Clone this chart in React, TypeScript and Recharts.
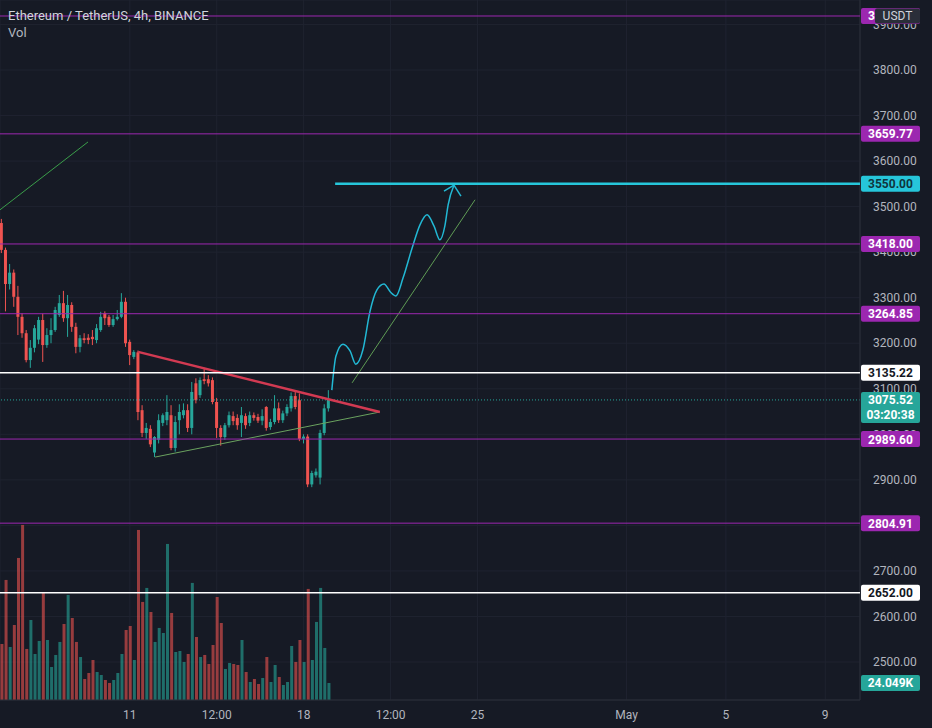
import React from "react";
import {
  ComposedChart,
  Bar,
  Line,
  XAxis,
  YAxis,
  CartesianGrid,
  ReferenceLine,
  Cell,
} from "recharts";

// ---- 4h candles (index 0 = Apr 5 20:00) ----
const OPEN = [
  3464, 3405, 3330, 3355, 3302, 3258, 3222, 3163, 3190, 3208,
  3251, 3196, 3218, 3229, 3262, 3288, 3255, 3284, 3236, 3192,
  3211, 3212, 3214, 3207, 3229, 3266, 3258, 3240, 3253, 3258,
  3291, 3203, 3170, 3180, 3053, 3003, 3012, 2960, 2988, 3025,
  3031, 3042, 2970, 3031, 3042, 3053, 3014, 3112, 3086, 3121,
  3121, 3119, 3071, 3014, 2994, 3020, 3040, 3036, 3025, 3040,
  3025, 3042, 3038, 3030, 3060, 3016, 3027, 3057, 3031, 3046,
  3057, 3084, 3075, 2990, 2995, 2890, 2910, 2905, 3003, 3057,
];
const HIGH = [
  3473, 3410, 3374, 3362, 3326, 3266, 3229, 3207, 3240, 3258,
  3265, 3233, 3255, 3280, 3306, 3315, 3306, 3290, 3245, 3218,
  3222, 3220, 3229, 3242, 3269, 3270, 3262, 3262, 3273, 3310,
  3300, 3208, 3185, 3184, 3064, 3025, 3020, 2996, 3044, 3046,
  3086, 3064, 3040, 3066, 3068, 3066, 3115, 3123, 3125, 3146,
  3130, 3125, 3080, 3020, 3025, 3050, 3050, 3044, 3060, 3046,
  3050, 3048, 3045, 3055, 3062, 3034, 3086, 3070, 3052, 3066,
  3092, 3095, 3090, 3000, 3000, 2920, 2925, 3010, 3066, 3097,
];
const LOW = [
  3398, 3270, 3318, 3280, 3218, 3212, 3158, 3146, 3180, 3198,
  3159, 3190, 3200, 3225, 3258, 3247, 3214, 3225, 3178, 3180,
  3200, 3198, 3196, 3200, 3225, 3240, 3236, 3236, 3250, 3255,
  3192, 3152, 3165, 3031, 2994, 2990, 2972, 2950, 2980, 3018,
  3020, 2965, 2962, 3000, 3035, 3005, 3000, 3068, 3080, 3110,
  3105, 3066, 2992, 2975, 2988, 3015, 3020, 3010, 2994, 3012,
  3018, 3030, 3025, 3020, 3008, 3010, 3022, 3025, 3025, 3040,
  3050, 3055, 2985, 2980, 2884, 2884, 2905, 2890, 2998, 3050,
];
const CLOSE = [
  3405, 3330, 3355, 3302, 3258, 3222, 3163, 3190, 3233, 3251,
  3196, 3218, 3229, 3273, 3288, 3255, 3284, 3236, 3192, 3211,
  3207, 3207, 3209, 3233, 3258, 3255, 3240, 3253, 3258, 3291,
  3200, 3174, 3181, 3049, 3003, 3014, 2978, 2994, 3031, 3042,
  3049, 2970, 3027, 3049, 3053, 3014, 3093, 3075, 3119, 3117,
  3112, 3071, 3014, 2994, 3020, 3042, 3029, 3020, 3042, 3020,
  3042, 3036, 3030, 3040, 3014, 3027, 3057, 3031, 3046, 3060,
  3084, 3060, 2990, 2995, 2890, 2915, 2918, 3003, 3057, 3075.52,
];
// volume in thousands
const VOLUME = [
  79.2, 169.8, 75.0, 106.1, 200.9, 247.6, 72.2, 113.2, 65.1, 83.5,
  151.4, 84.9, 46.7, 63.7, 82.1, 107.5, 148.6, 116.0, 82.1, 60.8,
  29.7, 38.2, 56.6, 39.6, 35.4, 28.3, 24.1, 28.3, 38.2, 65.1,
  99.0, 104.7, 56.6, 240.5, 138.7, 158.5, 124.5, 82.1, 101.9, 94.8,
  220.7, 123.1, 67.9, 69.3, 53.8, 65.1, 165.6, 89.1, 60.8, 63.7,
  50.9, 77.8, 145.7, 108.9, 43.9, 52.4, 50.9, 49.5, 84.9, 39.6,
  25.5, 29.7, 22.6, 31.1, 60.8, 25.5, 49.5, 32.5, 21.2, 25.5,
  76.4, 53.8, 84.9, 53.8, 157.1, 56.6, 110.4, 158.5, 73.6, 24.049,
];

const PRICE_TICKS = [2500, 2600, 2700, 2800, 2900, 3000, 3100, 3200, 3300, 3400, 3500, 3600, 3700, 3800, 3900];
const TIME_TICKS = [31, 52, 73, 94, 115, 151, 175, 199];
const TIME_LABELS = ["11", "12:00", "18", "12:00", "25", "May", "5", "9"];

const PURPLE_LEVELS = [3918.6, 3659.77, 3418.0, 3264.85, 2989.6, 2804.91];
const WHITE_LEVELS = [3135.22, 2652.0];
const LAST_PRICE = 3075.52;
const COUNTDOWN = "03:20:38";
const TARGET = 3550.0;
const TARGET_START = 80.6;

// projected path (drawing)
const WAVE_K = [79.8, 80.8, 82.5, 84.2, 85.6, 87.3, 89.0, 90.7, 92.4, 94.0, 95.3, 97.0, 99.2, 101.1, 102.8, 104.5, 105.9, 107.1, 107.9, 109.3];
const WAVE_P = [3097, 3172, 3198, 3183, 3154, 3185, 3269, 3317, 3330, 3312, 3304, 3343, 3409, 3460, 3482, 3457, 3427, 3457, 3504, 3547];
const ARROW_LEFT = { k: 106.9, p: 3534 };
const ARROW_RIGHT = { k: 111.0, p: 3523 };

// triangle & trendlines
const TRI_TOP = [{ k: 33, p: 3181 }, { k: 91.4, p: 3049 }];
const TRI_BOTTOM = [{ k: 37.1, p: 2950 }, { k: 91.4, p: 3049 }];
const TREND_OLD = [{ k: -0.36, p: 3493 }, { k: 20.9, p: 3642 }];
const TREND_NEW = [{ k: 84.7, p: 3113 }, { k: 114.4, p: 3515 }];

const X_DOMAIN: [number, number] = [-0.36, 207.4];
const Y_DOMAIN: [number, number] = [2416.6, 3953.7];
const VOL_DOMAIN: [number, number] = [0, 990];

const CANDLES = OPEN.map((o, i) => ({
  k: i,
  o,
  h: HIGH[i],
  l: LOW[i],
  c: CLOSE[i],
  v: VOLUME[i],
}));
const WAVE = WAVE_K.map((k, i) => ({ k, p: WAVE_P[i] }));

const FONT = "Roboto, 'Noto Sans', 'DejaVu Sans', sans-serif";
const UP = "#26a69a";
const DOWN = "#ef5350";
const BG = "#161a25";
const PURPLE = "#9c27b0";
const CYAN = "#26c6da";
const WAVE_COLOR = "#22b8d4";
const AXIS_TEXT = "#b2b5be";

function Candle(props: any) {
  const { x, y, width, height, payload } = props;
  if (!payload || x == null || y == null) return null;
  const top = Math.min(y, y + height);
  const hgt = Math.abs(height);
  const { o, h, l, c } = payload;
  const ppu = hgt / (h - l || 1);
  const yOf = (p: number) => top + (h - p) * ppu;
  const color = c >= o ? UP : DOWN;
  const cx = x + width / 2;
  const bTop = yOf(Math.max(o, c));
  const bBot = yOf(Math.min(o, c));
  return (
    <g>
      <rect x={cx - 0.5} y={top} width={1} height={hgt} fill={color} />
      <rect x={cx - 1.5} y={bTop} width={3} height={Math.max(1, bBot - bTop)} fill={color} />
    </g>
  );
}

function badge(text: string, bg: string, fg: string, opts: { sub?: string; usdt?: boolean } = {}) {
  return (props: any) => {
    const vb = props.viewBox || { x: 0, y: 0, width: 0, height: 0 };
    const x = vb.x + vb.width + 1;
    const y = vb.y + (vb.height || 0) / 2;
    const w = 59;
    const h = opts.sub ? 31 : 16;
    return (
      <g>
        <rect x={x} y={y - 8} width={w} height={h} fill={bg} rx={2} />
        <text x={x + w / 2} y={y + 4.5} textAnchor="middle" fill={fg} fontSize={12} fontWeight={700} fontFamily={FONT}>
          {text}
        </text>
        {opts.sub && (
          <text x={x + w / 2} y={y + 19} textAnchor="middle" fill={fg} fontSize={12} fontWeight={700} fontFamily={FONT}>
            {opts.sub}
          </text>
        )}
        {opts.usdt && (
          <g>
            <rect x={x + 14} y={y - 7.5} width={45} height={15} fill="#2a2e39" rx={2} />
            <text x={x + 36.5} y={y + 4.5} textAnchor="middle" fill="#d1d4dc" fontSize={12} fontFamily={FONT}>
              USDT
            </text>
          </g>
        )}
      </g>
    );
  };
}

const seg = (pts: { k: number; p: number }[]) => pts.map((q) => ({ x: q.k, y: q.p }));
const CHART_MARGIN = { top: 0, right: 0, bottom: 0, left: 0 };

export default function App() {
  return (
    <div style={{ position: "absolute", left: 0, top: 0, width: 932, height: 728, background: BG, overflow: "hidden" }}>
      {/* base chart: grid, axes, series, drawings */}
      <div style={{ position: "absolute", left: 0, top: 0 }}>
        <ComposedChart width={932} height={728} data={CANDLES} margin={CHART_MARGIN}>
          <CartesianGrid xAxisId="p" yAxisId="p" stroke="#1f2330" strokeWidth={1} />
          <XAxis
            xAxisId="p"
            type="number"
            dataKey="k"
            domain={X_DOMAIN}
            allowDataOverflow
            ticks={TIME_TICKS}
            interval={0}
            tickFormatter={(v: number) => TIME_LABELS[TIME_TICKS.indexOf(v)] ?? ""}
            height={28}
            tickLine={false}
            tickSize={6}
            tickMargin={4}
            axisLine={{ stroke: "#2a2e39" }}
            tick={{ fill: AXIS_TEXT, fontSize: 12, fontFamily: FONT }}
          />
          <XAxis xAxisId="v" type="number" dataKey="k" domain={X_DOMAIN} allowDataOverflow hide />
          <YAxis
            yAxisId="p"
            orientation="right"
            width={72}
            domain={Y_DOMAIN}
            allowDataOverflow
            ticks={PRICE_TICKS}
            interval={0}
            tickFormatter={(v: number) => v.toFixed(2)}
            tickLine={false}
            tickSize={6}
            tickMargin={7}
            axisLine={{ stroke: "#2a2e39" }}
            tick={{ fill: AXIS_TEXT, fontSize: 12, fontFamily: FONT }}
          />
          <YAxis yAxisId="v" domain={VOL_DOMAIN} allowDataOverflow hide />

          <Bar xAxisId="v" yAxisId="v" dataKey="v" barSize={3} isAnimationActive={false}>
            {CANDLES.map((d, i) => (
              <Cell key={i} fill={d.c >= d.o ? UP : DOWN} fillOpacity={0.6} />
            ))}
          </Bar>

          <ReferenceLine
            xAxisId="p"
            yAxisId="p"
            y={LAST_PRICE}
            stroke={UP}
            strokeWidth={1}
            strokeDasharray="1 2"
          />
          <ReferenceLine xAxisId="p" yAxisId="p" segment={seg(TREND_OLD)} ifOverflow="visible" stroke="#3a9e4a" strokeWidth={1} />
          <ReferenceLine xAxisId="p" yAxisId="p" segment={seg(TREND_NEW)} ifOverflow="visible" stroke="#5f9c55" strokeWidth={1} />
          <ReferenceLine xAxisId="p" yAxisId="p" segment={seg(TRI_BOTTOM)} ifOverflow="visible" stroke="#6aa25f" strokeWidth={1} />

          <Bar
            xAxisId="p"
            yAxisId="p"
            dataKey={(d: any) => [d.l, d.h]}
            barSize={3}
            shape={Candle}
            isAnimationActive={false}
          />

          <ReferenceLine xAxisId="p" yAxisId="p" segment={seg(TRI_TOP)} ifOverflow="visible" stroke="#d23a52" strokeWidth={2.5} />

          <Line
            xAxisId="p"
            yAxisId="p"
            data={WAVE}
            dataKey="p"
            type="monotone"
            stroke={WAVE_COLOR}
            strokeWidth={1.5}
            dot={false}
            activeDot={false}
            isAnimationActive={false}
          />
          <ReferenceLine
            xAxisId="p"
            yAxisId="p"
            segment={[{ x: WAVE_K[WAVE_K.length - 1], y: WAVE_P[WAVE_P.length - 1] }, { x: ARROW_LEFT.k, y: ARROW_LEFT.p }]}
            ifOverflow="visible"
            stroke={WAVE_COLOR}
            strokeWidth={1.5}
          />
          <ReferenceLine
            xAxisId="p"
            yAxisId="p"
            segment={[{ x: WAVE_K[WAVE_K.length - 1], y: WAVE_P[WAVE_P.length - 1] }, { x: ARROW_RIGHT.k, y: ARROW_RIGHT.p }]}
            ifOverflow="visible"
            stroke={WAVE_COLOR}
            strokeWidth={1.5}
          />
        </ComposedChart>
      </div>

      {/* overlay chart with same scales: level lines and their price-axis badges on top of the axis */}
      <div style={{ position: "absolute", left: 0, top: 0 }}>
        <ComposedChart width={932} height={728} data={CANDLES} margin={CHART_MARGIN}>
          <XAxis
            xAxisId="p"
            type="number"
            dataKey="k"
            domain={X_DOMAIN}
            allowDataOverflow
            height={28}
            tick={false}
            tickLine={false}
            axisLine={false}
          />
          <XAxis xAxisId="v" type="number" dataKey="k" domain={X_DOMAIN} allowDataOverflow hide />
          <YAxis
            yAxisId="p"
            orientation="right"
            width={72}
            domain={Y_DOMAIN}
            allowDataOverflow
            tick={false}
            tickLine={false}
            axisLine={false}
          />
          <YAxis yAxisId="v" domain={VOL_DOMAIN} allowDataOverflow hide />

          {PURPLE_LEVELS.map((p, i) => (
            <ReferenceLine
              key={"pl" + i}
              xAxisId="p"
              yAxisId="p"
              y={p}
              stroke={PURPLE}
              strokeWidth={1}
              label={badge(p.toFixed(2), PURPLE, "#ffffff", { usdt: i === 0 })}
            />
          ))}
          {WHITE_LEVELS.map((p, i) => (
            <ReferenceLine
              key={"wl" + i}
              xAxisId="p"
              yAxisId="p"
              y={p}
              stroke="#ffffff"
              strokeWidth={1.5}
              label={badge(p.toFixed(2), "#ffffff", "#131722")}
            />
          ))}
          <ReferenceLine
            xAxisId="p"
            yAxisId="p"
            y={LAST_PRICE}
            stroke="none"
            label={badge(LAST_PRICE.toFixed(2), UP, "#ffffff", { sub: COUNTDOWN })}
          />
          <ReferenceLine
            xAxisId="p"
            yAxisId="p"
            segment={[{ x: TARGET_START, y: TARGET }, { x: X_DOMAIN[1], y: TARGET }]}
            ifOverflow="visible"
            stroke={CYAN}
            strokeWidth={2.5}
            label={badge(TARGET.toFixed(2), CYAN, "#10363d")}
          />
          <ReferenceLine
            xAxisId="v"
            yAxisId="v"
            y={VOLUME[VOLUME.length - 1]}
            stroke="none"
            label={badge(VOLUME[VOLUME.length - 1].toFixed(3) + "K", UP, "#ffffff")}
          />
        </ComposedChart>
      </div>

      <div
        style={{
          position: "absolute",
          left: 8,
          top: 7,
          fontFamily: FONT,
          fontSize: 13,
          lineHeight: "17px",
          color: "#d1d4dc",
          pointerEvents: "none",
          whiteSpace: "nowrap",
        }}
      >
        <div>Ethereum / TetherUS, 4h, BINANCE</div>
        <div style={{ color: AXIS_TEXT }}>Vol</div>
      </div>
    </div>
  );
}
